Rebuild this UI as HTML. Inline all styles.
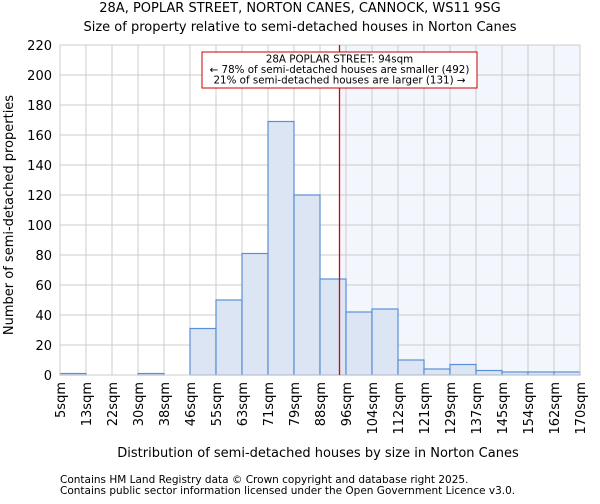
<!DOCTYPE html>
<html><head><meta charset="utf-8"><style>
body{margin:0;background:#fff;font-family:"DejaVu Sans","Liberation Sans",sans-serif}
svg text{font-family:"DejaVu Sans","Liberation Sans",sans-serif;fill:#000}
</style></head><body>
<svg id="chart" width="600" height="500" xmlns="http://www.w3.org/2000/svg">
<text x="300" y="12" text-anchor="middle" font-size="13">28A, POPLAR STREET, NORTON CANES, CANNOCK, WS11 9SG</text>
<text x="300" y="31" text-anchor="middle" font-size="13">Size of property relative to semi-detached houses in Norton Canes</text>
<g id="plot"></g>
<text x="318" y="457" text-anchor="middle" font-size="13">Distribution of semi-detached houses by size in Norton Canes</text>
<text transform="translate(13,215) rotate(-90)" text-anchor="middle" font-size="13">Number of semi-detached properties</text>
<text x="60" y="483" font-size="10.5" fill="#333">Contains HM Land Registry data © Crown copyright and database right 2025.</text>
<text x="60" y="494" font-size="10.5" fill="#333">Contains public sector information licensed under the Open Government Licence v3.0.</text>
</svg>
<script>
const binLabels=["5sqm","13sqm","22sqm","30sqm","38sqm","46sqm","55sqm","63sqm","71sqm","79sqm","88sqm","96sqm","104sqm","112sqm","121sqm","129sqm","137sqm","145sqm","154sqm","162sqm","170sqm"];
const binEdges=[5,13,22,30,38,46,55,63,71,79,88,96,104,112,121,129,137,145,154,162,170];
const counts=[1,0,0,1,0,31,50,81,169,120,64,42,44,10,4,7,3,2,2,2];
const yTicks=[0,20,40,60,80,100,120,140,160,180,200,220];
const propertySize=94;
const L=60,R=580,T=45,B=375,yMax=220;
const NS="http://www.w3.org/2000/svg";
const g=document.getElementById('plot');
const n=counts.length,bw=(R-L)/n;
function xIdx(i){return L+i*bw;}
function xVal(v){for(let i=0;i<binEdges.length-1;i++){if(v<=binEdges[i+1])return xIdx(i+(v-binEdges[i])/(binEdges[i+1]-binEdges[i]));}return R;}
function y(v){return B-(v/yMax)*(B-T);}
function mk(t,a){const e=document.createElementNS(NS,t);for(const k in a)e.setAttribute(k,a[k]);g.appendChild(e);return e;}
const px=xVal(propertySize);
let e=mk('rect',{x:px,y:T,width:R-px,height:B-T,fill:'#f3f6fd'});


yTicks.forEach(t=>{
 let l=mk('line',{x1:L,x2:R,y1:y(t),y2:y(t),stroke:'#ccc','stroke-width':1});
 
 
 let tx=mk('text',{x:L-8,y:y(t)+5,'text-anchor':'end','font-size':13});
 tx.textContent=t;
 
 
});
binLabels.forEach((lab,i)=>{
 let l=mk('line',{x1:xIdx(i),x2:xIdx(i),y1:T,y2:B,stroke:'#ccc','stroke-width':1});
 
 
 let tx=mk('text',{transform:`translate(${xIdx(i)+5},${B+7}) rotate(-90)`,'text-anchor':'end','font-size':13});
 tx.textContent=lab;
 
 
});
counts.forEach((c,i)=>{
 let r=mk('rect',{x:xIdx(i),y:y(c),width:bw,height:B-y(c),fill:'#dbe5f4',stroke:'#5a8fd6','stroke-width':1.2});
 
 
});
e=mk('rect',{x:L,y:T,width:R-L,height:B-T,fill:'none',stroke:'#ccc'});


e=mk('line',{x1:px,x2:px,y1:T,y2:B,stroke:'#d00','stroke-width':1.3});


e=mk('rect',{x:202,y:52,width:275,height:36,fill:'#fff',stroke:'#c00','stroke-width':1});


["28A POPLAR STREET: 94sqm","← 78% of semi-detached houses are smaller (492)","21% of semi-detached houses are larger (131) →"].forEach((s,k)=>{
 let t=mk('text',{x:339.5,y:62.5+k*10.5,'text-anchor':'middle','font-size':10.3});
 t.textContent=s;
 
 
});
</script>
</body></html>
